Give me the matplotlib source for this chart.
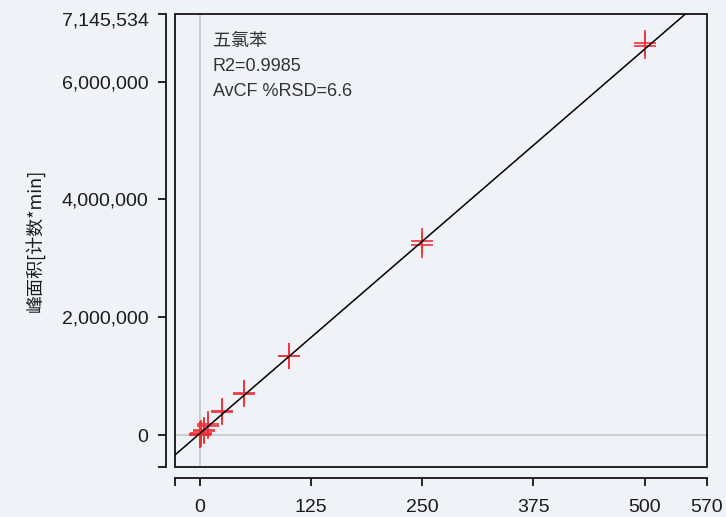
import numpy as np
import matplotlib.pyplot as plt
import matplotlib.transforms as mtransforms
from matplotlib.path import Path
from matplotlib.patches import Rectangle

plt.rcParams['font.family'] = ['Liberation Sans', 'Noto Sans CJK SC', 'DejaVu Sans']

# calibration data (concentration vs peak area)
conc = [0.5, 0.5, 1, 1, 2, 2, 5, 5, 10, 10, 25, 25, 50, 50, 100, 100, 250, 250, 500, 500]
area = [8000, 5000, 16000, 12000, 30000, 24000, 80000, 68000, 186000, 160000,
        411000, 395000, 711000, 705000, 1343000, 1350000, 3290000, 3223000, 6660000, 6610000]

# fitted line
slope = 13050
intercept = 24000

x_min, x_max = -27, 570
y_min, y_max = -540000, 7145534
x_ticks = [x_min, 0, 125, 250, 375, 500, 570]
x_labels = ['', '0', '125', '250', '375', '500', '570']
y_ticks = [y_min, 0, 2000000, 4000000, 6000000, 7145534]
y_labels = ['', '0', '2,000,000', '4,000,000', '6,000,000', '7,145,534']

compound = '五氯苯'
r2_text = 'R2=0.9985'
rsd_text = 'AvCF %RSD=6.6'

bg = '#eff3f7'
fig = plt.figure(figsize=(7.26, 5.17), dpi=100, facecolor=bg)
ax = fig.add_axes([0.2417, 0.0967, 0.7321, 0.8762], facecolor=bg)

# reference lines at zero
ax.axvline(0, color='#c8c8c8', lw=1.2, zorder=1)
ax.axhline(0, color='#c8c8c8', lw=1.2, zorder=1)

# regression line
xl = np.array([x_min, x_max])
ax.plot(xl, slope * xl + intercept, color='black', lw=1.1, zorder=3)

# cross markers, a bit taller than wide
cross = Path([(-0.85, 0), (0.85, 0), (0, -1), (0, 1)],
             [Path.MOVETO, Path.LINETO, Path.MOVETO, Path.LINETO])
ax.plot(conc, area, ls='none', marker=cross, markersize=19,
        markeredgecolor='#f0303a', markeredgewidth=1.4, alpha=0.85, zorder=2)

ax.set_xlim(x_min, x_max)
ax.set_ylim(y_min, y_max)
ax.set_xticks(x_ticks)
ax.set_xticklabels(x_labels)
ax.set_yticks(y_ticks)
ax.set_yticklabels(y_labels)

# detached axes plus an inner frame
ax.spines['top'].set_visible(False)
ax.spines['right'].set_visible(False)
ax.spines['left'].set_position(('outward', 6.5))
ax.spines['bottom'].set_position(('outward', 8))
for s in ['left', 'bottom']:
    ax.spines[s].set_linewidth(1.2)
ax.add_patch(Rectangle((0, 0), 1, 1, transform=ax.transAxes, fill=False,
                       lw=1.2, ec='black', clip_on=False, zorder=4))

ax.tick_params(axis='both', direction='out', length=6, width=1.2,
               labelsize=14, colors='black', labelcolor='#1a1a1a')
ax.tick_params(axis='y', pad=7)
ax.tick_params(axis='x', pad=9)

# top label sits a little lower than its tick, as in the original
top_lbl = ax.get_yticklabels()[-1]
top_lbl.set_transform(top_lbl.get_transform() +
                      mtransforms.ScaledTranslation(0, -5 / 100, fig.dpi_scale_trans))

ax.set_ylabel('峰面积[计数*min]', fontsize=13, color='#1a1a1a', labelpad=12,
              family=['Noto Sans CJK SC', 'DejaVu Sans'])

ax.text(0.0706, 0.929, compound, transform=ax.transAxes, fontsize=13,
        color='#333333', va='baseline', family=['Noto Sans CJK SC', 'DejaVu Sans'])
ax.text(0.0706, 0.875, r2_text, transform=ax.transAxes, fontsize=13,
        color='#333333', va='baseline')
ax.text(0.0706, 0.820, rsd_text, transform=ax.transAxes, fontsize=13,
        color='#333333', va='baseline')

fig.savefig('out.png', dpi=100, facecolor=bg)
